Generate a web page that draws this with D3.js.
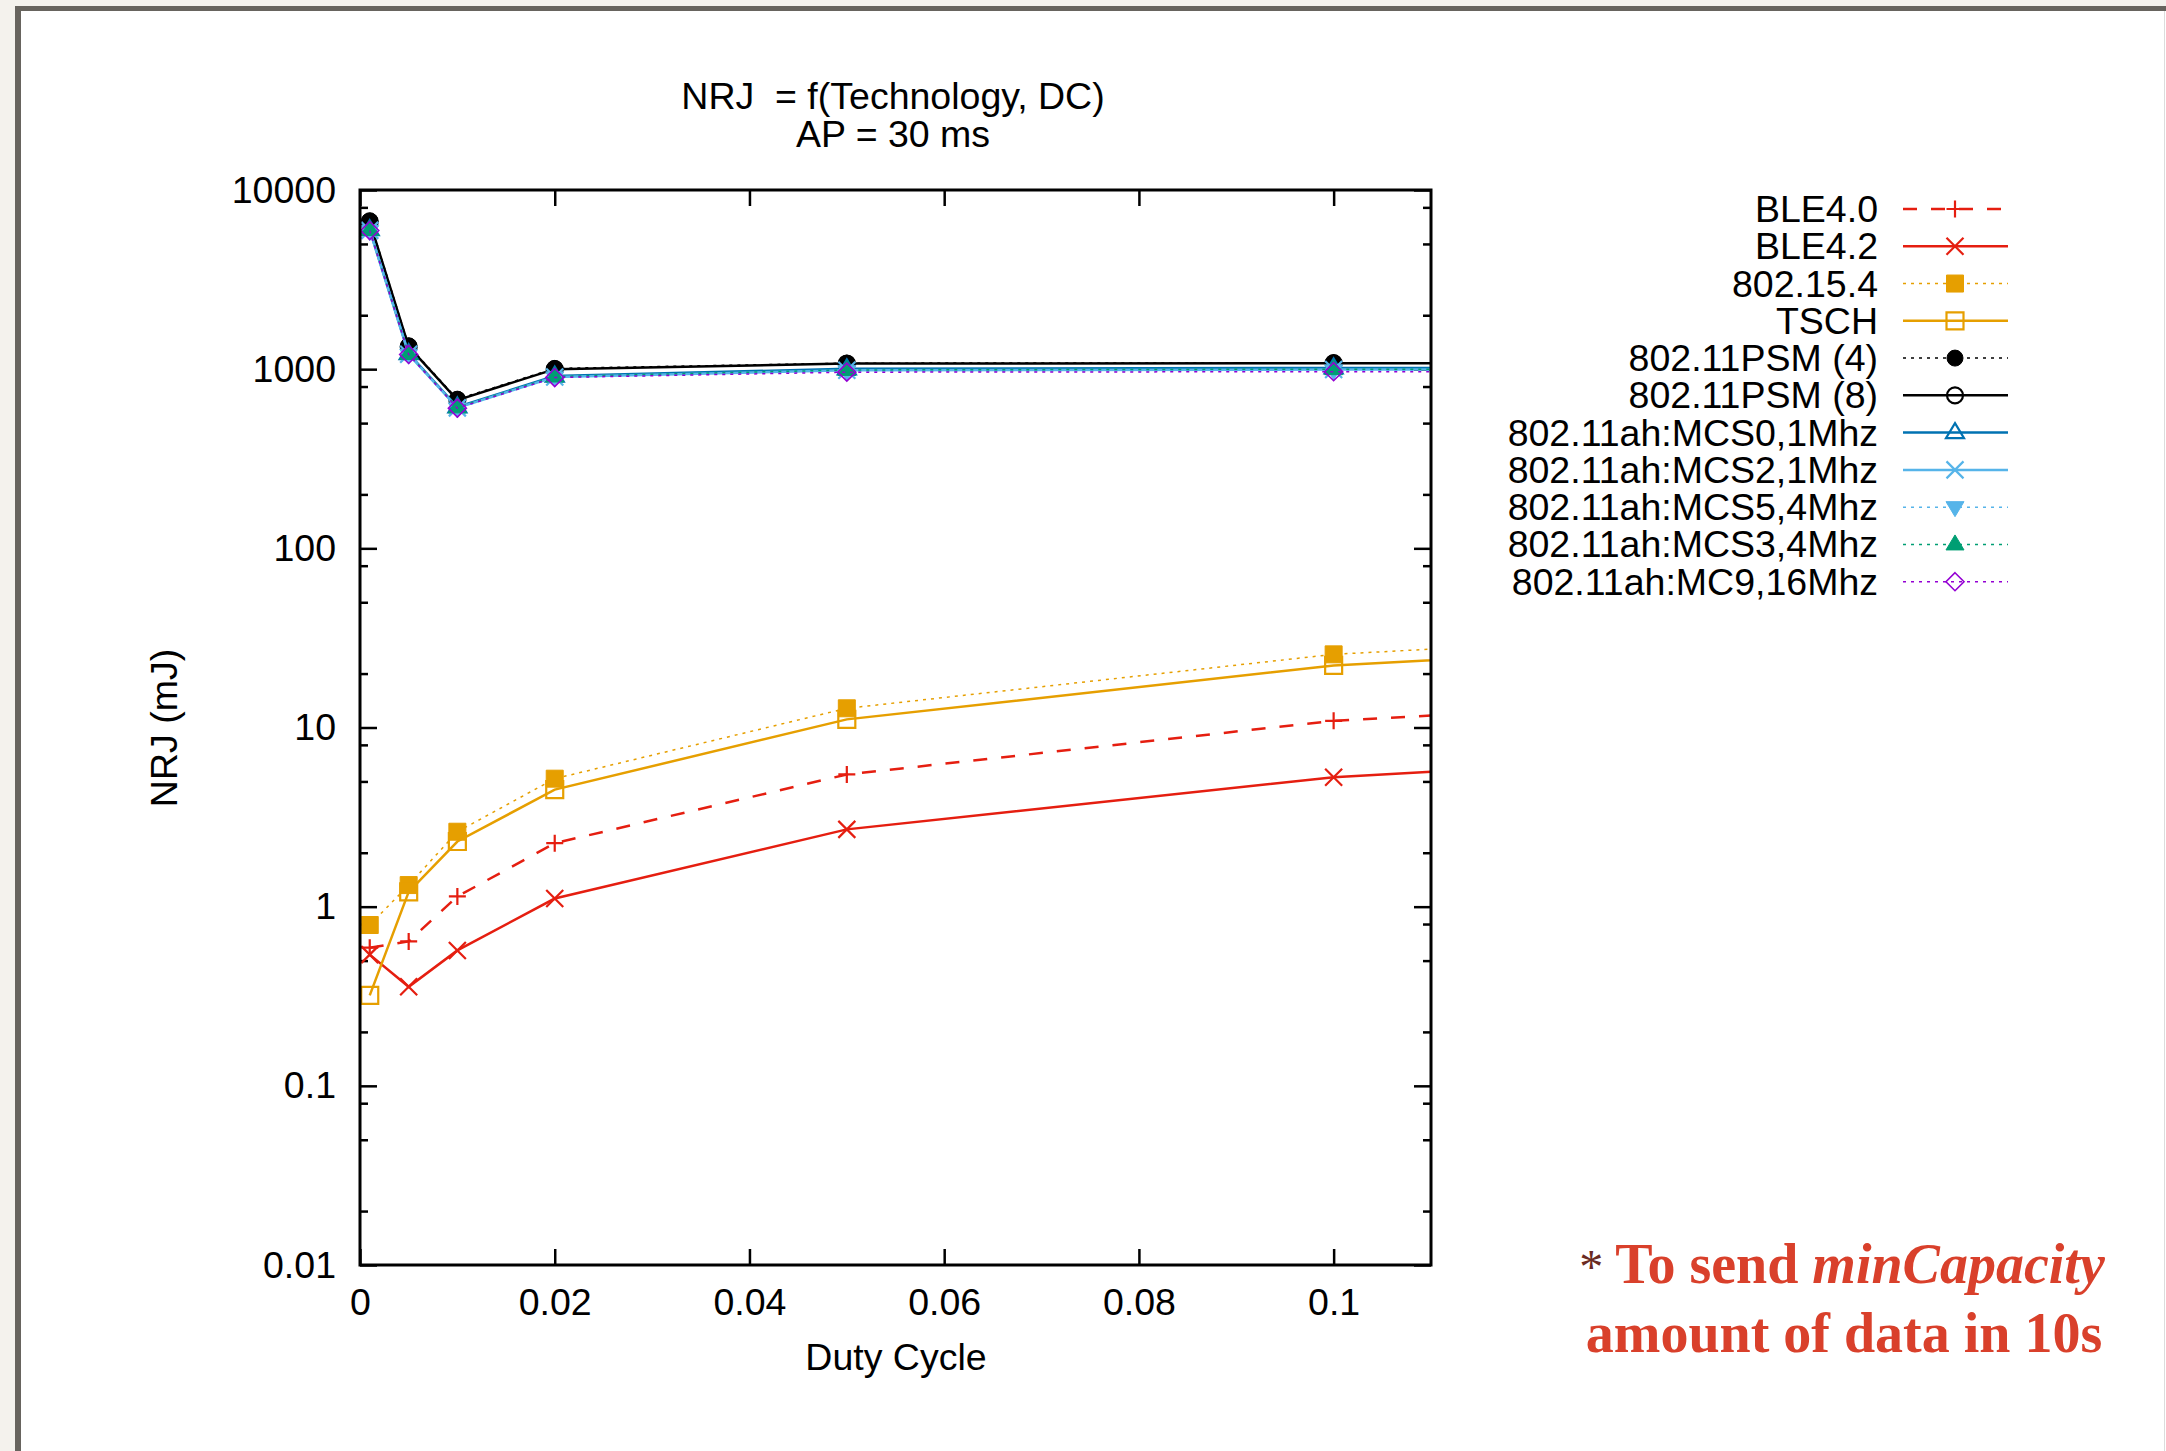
<!DOCTYPE html>
<html>
<head>
<meta charset="utf-8">
<script src="https://cdn.jsdelivr.net/npm/d3@7"></script>
<style>
  body { margin: 0; background: #f4f2ed; }
  svg { display: block; }
</style>
</head>
<body>
<div id="chart"></div>
<script>
// duty cycle values (x) - last point lies past the right edge, lines run out of the frame
const dutyCycle = [0.001, 0.005, 0.01, 0.02, 0.05, 0.1, 0.2];

// energy in mJ, one array per technology
const ble40   = [0.59, 0.64, 1.14, 2.26, 5.47, 10.9, 21.5];
const ble42   = [0.54, 0.357, 0.57, 1.11, 2.70, 5.28, 10.5];
const ieee802154 = [0.79, 1.32, 2.62, 5.18, 12.8, 25.6, 50];
const tsch    = [0.32, 1.21, 2.31, 4.5, 11.1, 22.2, 43];
const psm4    = [6740, 1350, 680, 1010, 1080, 1085, 1085];
const psm8    = [6650, 1335, 672, 1000, 1075, 1080, 1080];
const mcs0    = [6000, 1220, 615, 915, 1005, 1015, 1020];
const mcs2    = [5950, 1210, 608, 905, 985, 995, 1000];
const mcs5    = [5900, 1205, 604, 900, 975, 985, 990];
const mcs3    = [5980, 1215, 612, 910, 990, 1000, 1005];
const mc9     = [5940, 1208, 606, 898, 962, 968, 970];

const seriesNames = ["BLE4.0", "BLE4.2", "802.15.4", "TSCH", "802.11PSM (4)", "802.11PSM (8)",
  "802.11ah:MCS0,1Mhz", "802.11ah:MCS2,1Mhz", "802.11ah:MCS5,4Mhz", "802.11ah:MCS3,4Mhz", "802.11ah:MC9,16Mhz"];
const seriesValues = [ble40, ble42, ieee802154, tsch, psm4, psm8, mcs0, mcs2, mcs5, mcs3, mc9];

const xTicks = [0, 0.02, 0.04, 0.06, 0.08, 0.1];
const xTickLabels = ["0", "0.02", "0.04", "0.06", "0.08", "0.1"];
const yTicks = [0.01, 0.1, 1, 10, 100, 1000, 10000];
const yTickLabels = ["0.01", "0.1", "1", "10", "100", "1000", "10000"];
const yMinorTicks = [0.02, 0.05, 0.08, 0.2, 0.5, 0.8, 2, 5, 8, 20, 50, 80, 200, 500, 800, 2000, 5000, 8000];

// gnuplot-ish line / point styles
const styles = [
  { color: "#e51e10", width: 2.5, dash: "14,14", mark: "plus" },
  { color: "#e51e10", width: 2.5, dash: null,    mark: "cross" },
  { color: "#e69f00", width: 1.5, dash: "3,5",   mark: "squareF" },
  { color: "#e69f00", width: 2.5, dash: null,    mark: "squareO" },
  { color: "#000000", width: 1.5, dash: "3,5",   mark: "circleF" },
  { color: "#000000", width: 2.5, dash: null,    mark: "circleO" },
  { color: "#0072b2", width: 2.5, dash: null,    mark: "triO" },
  { color: "#56b4e9", width: 2.5, dash: null,    mark: "cross" },
  { color: "#56b4e9", width: 1.5, dash: "3,5",   mark: "triDownF" },
  { color: "#009e73", width: 1.5, dash: "3,5",   mark: "triF" },
  { color: "#9400d3", width: 1.5, dash: "3,5",   mark: "diamondO" }
];

const W = 2166, H = 1451;
const plotLeft = 360, plotRight = 1431, plotTop = 190, plotBottom = 1265;
const FONT = "'Liberation Sans', Arial, Helvetica, sans-serif";
const FS = 37.5;

const svg = d3.select("#chart").append("svg")
    .attr("width", W)
    .attr("height", H);

// slide frame
svg.append("rect").attr("width", W).attr("height", H).attr("fill", "#f4f2ed");
svg.append("rect").attr("x", 15).attr("y", 6).attr("width", W - 15).attr("height", H - 6).attr("fill", "#67645e");
svg.append("rect").attr("x", 21).attr("y", 11).attr("width", W - 21).attr("height", H - 11).attr("fill", "#ffffff");
svg.append("line").attr("x1", W - 1.5).attr("x2", W - 1.5).attr("y1", 11).attr("y2", H)
    .attr("stroke", "#dcdcdc").attr("stroke-width", 1);

const x = d3.scaleLinear().domain([0, 0.11]).range([plotLeft, plotRight]);
const y = d3.scaleLog().domain([0.01, 10000]).range([plotBottom, plotTop]);

function styleAxis(g) {
    g.select(".domain").remove();
    g.attr("font-family", FONT).attr("font-size", FS);
    g.selectAll("line").attr("stroke", "#000").attr("stroke-width", 2.5);
    g.selectAll("text").attr("fill", "#000");
}

// axes (ticks point inwards like gnuplot)
svg.append("g").attr("transform", `translate(${plotLeft},0)`)
    .call(d3.axisLeft(y).tickValues(yTicks).tickSize(-17).tickPadding(24)
        .tickFormat((d, i) => yTickLabels[i]))
    .call(styleAxis);
svg.append("g").attr("transform", `translate(${plotLeft},0)`)
    .call(d3.axisLeft(y).tickValues(yMinorTicks).tickSize(-8).tickFormat(""))
    .call(styleAxis);
svg.append("g").attr("transform", `translate(${plotRight},0)`)
    .call(d3.axisRight(y).tickValues(yTicks).tickSize(-17).tickFormat(""))
    .call(styleAxis);
svg.append("g").attr("transform", `translate(${plotRight},0)`)
    .call(d3.axisRight(y).tickValues(yMinorTicks).tickSize(-8).tickFormat(""))
    .call(styleAxis);
svg.append("g").attr("transform", `translate(0,${plotBottom})`)
    .call(d3.axisBottom(x).tickValues(xTicks).tickSize(-16).tickPadding(23)
        .tickFormat((d, i) => xTickLabels[i]))
    .call(styleAxis);
svg.append("g").attr("transform", `translate(0,${plotTop})`)
    .call(d3.axisTop(x).tickValues(xTicks).tickSize(-16).tickFormat(""))
    .call(styleAxis);

// titles
svg.append("text")
    .attr("x", 893).attr("y", 109)
    .attr("text-anchor", "middle")
    .attr("font-family", FONT).attr("font-size", FS)
    .style("white-space", "pre")
    .text("NRJ  = f(Technology, DC)");
svg.append("text")
    .attr("x", 893).attr("y", 147)
    .attr("text-anchor", "middle")
    .attr("font-family", FONT).attr("font-size", FS)
    .text("AP = 30 ms");
svg.append("text")
    .attr("x", 896).attr("y", 1370)
    .attr("text-anchor", "middle")
    .attr("font-family", FONT).attr("font-size", FS)
    .text("Duty Cycle");
svg.append("text")
    .attr("transform", "translate(177,728) rotate(-90)")
    .attr("text-anchor", "middle")
    .attr("font-family", FONT).attr("font-size", FS)
    .text("NRJ (mJ)");

// marker shapes
function drawMark(g, type, cx, cy, color) {
    const h = 8.5;
    const s = g.append("path")
        .attr("transform", `translate(${cx},${cy})`)
        .attr("stroke", color)
        .attr("stroke-width", 2.2)
        .attr("fill", "none");
    if (type === "plus") {
        s.attr("d", `M${-h},0H${h}M0,${-h}V${h}`);
    } else if (type === "cross") {
        s.attr("d", `M${-h},${-h}L${h},${h}M${-h},${h}L${h},${-h}`);
    } else if (type === "squareF" || type === "squareO") {
        s.attr("d", `M${-h},${-h}H${h}V${h}H${-h}Z`);
        if (type === "squareF") s.attr("fill", color).attr("stroke-width", 1);
    } else if (type === "circleF" || type === "circleO") {
        const r = 8;
        s.attr("d", `M${-r},0A${r},${r} 0 1,0 ${r},0A${r},${r} 0 1,0 ${-r},0Z`);
        if (type === "circleF") s.attr("fill", color).attr("stroke-width", 1);
    } else if (type === "triO" || type === "triF") {
        s.attr("d", "M0,-9.5L9,5.5L-9,5.5Z");
        if (type === "triF") s.attr("fill", color).attr("stroke-width", 1);
    } else if (type === "triDownF") {
        s.attr("d", "M0,9.5L9,-5.5L-9,-5.5Z").attr("fill", color).attr("stroke-width", 1);
    } else if (type === "diamondO") {
        s.attr("d", "M0,-9L9,0L0,9L-9,0Z").attr("stroke-width", 1.6);
    }
}

// data
svg.append("clipPath").attr("id", "plotClip")
    .append("rect")
    .attr("x", plotLeft).attr("y", plotTop)
    .attr("width", plotRight - plotLeft).attr("height", plotBottom - plotTop);

const series = seriesNames.map((name, i) => ({
    name: name,
    points: dutyCycle.map((dc, j) => [dc, seriesValues[i][j]]),
    style: styles[i]
}));

const line = d3.line().x(d => x(d[0])).y(d => y(d[1]));
const plot = svg.append("g");

series.forEach(s => {
    plot.append("path")
        .datum(s.points)
        .attr("clip-path", "url(#plotClip)")
        .attr("d", line)
        .attr("fill", "none")
        .attr("stroke", s.style.color)
        .attr("stroke-width", s.style.width)
        .attr("stroke-dasharray", s.style.dash);
    s.points.filter(p => p[0] <= x.domain()[1]).forEach(p => {
        drawMark(plot, s.style.mark, x(p[0]), y(p[1]), s.style.color);
    });
});

// border
svg.append("rect")
    .attr("x", plotLeft).attr("y", plotTop)
    .attr("width", plotRight - plotLeft).attr("height", plotBottom - plotTop)
    .attr("fill", "none")
    .attr("stroke", "#000")
    .attr("stroke-width", 3);

// legend
const legend = svg.append("g");
series.forEach((s, i) => {
    const ly = 209 + i * 37.27;
    legend.append("text")
        .attr("x", 1878).attr("y", ly + 13)
        .attr("text-anchor", "end")
        .attr("font-family", FONT).attr("font-size", FS)
        .text(s.name);
    legend.append("line")
        .attr("x1", 1903).attr("x2", 2008)
        .attr("y1", ly).attr("y2", ly)
        .attr("stroke", s.style.color)
        .attr("stroke-width", s.style.width)
        .attr("stroke-dasharray", s.style.dash);
    drawMark(legend, s.style.mark, 1955, ly, s.style.color);
});

// note
const note = svg.append("g")
    .attr("font-family", "'Liberation Serif', 'Times New Roman', serif")
    .attr("font-weight", "bold")
    .attr("font-size", 56)
    .attr("fill", "#d9402b")
    .attr("text-anchor", "middle");
const l1 = note.append("text").attr("x", 1842).attr("y", 1283);
l1.append("tspan").attr("fill", "#6b2a22").attr("font-weight", "normal").attr("font-size", 48).text("* ");
l1.append("tspan").text("To send ");
l1.append("tspan").attr("font-style", "italic").text("minCapacity");
note.append("text").attr("x", 1844).attr("y", 1352).text("amount of data in 10s");
</script>
</body>
</html>
